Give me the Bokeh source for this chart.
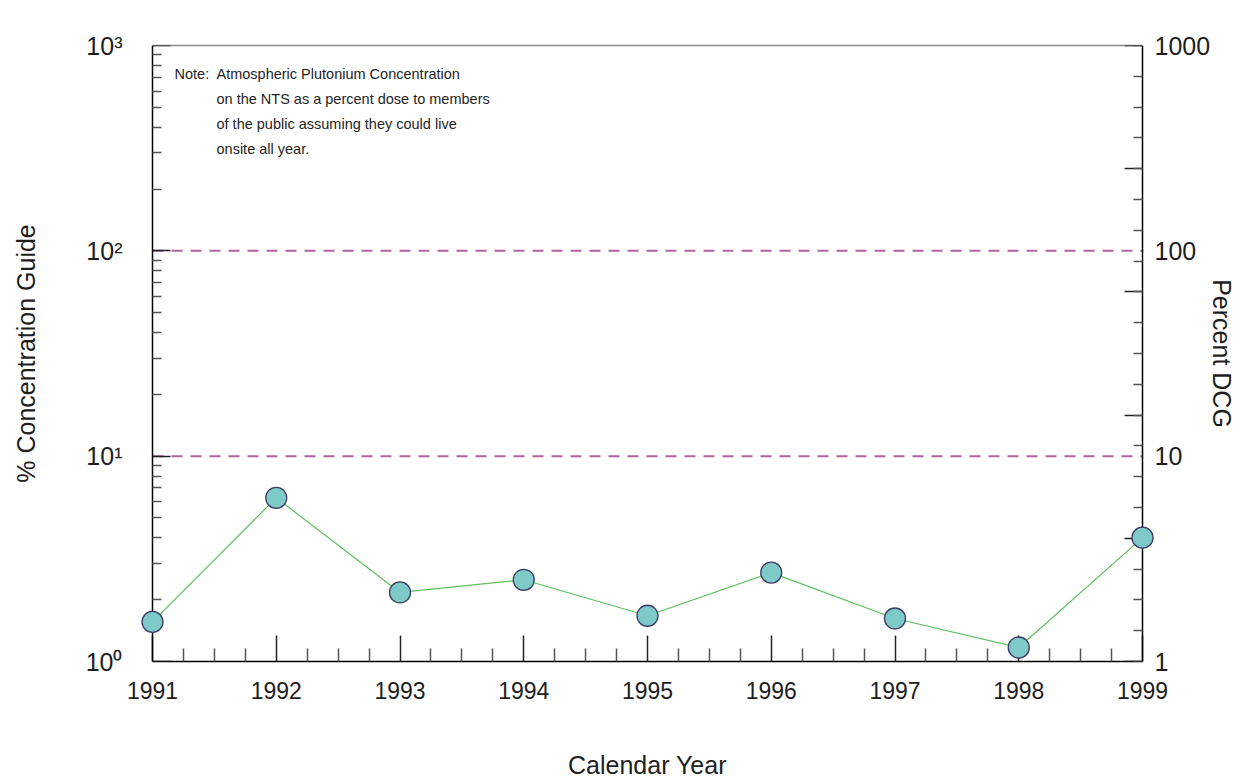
from bokeh.plotting import figure
from bokeh.models import (LogAxis, LinearAxis, FixedTicker, Range1d, Label,
                          LinearScale, LogScale, ColumnDataSource)
from bokeh.embed import file_html
from bokeh.resources import INLINE

# ---- data ----
years = [1991, 1992, 1993, 1994, 1995, 1996, 1997, 1998, 1999]
pct_guide = [1.56, 6.27, 2.17, 2.50, 1.67, 2.71, 1.62, 1.17, 4.01]
guide_levels = [10, 100]
left_ticks = [1, 10, 100, 1000]
left_tick_labels = ["10\u2070", "10\u00b9", "10\u00b2", "10\u00b3"]
right_tick_labels = ["1", "10", "100", "1000"]
note_head = "Note:"
note_lines = ["Atmospheric Plutonium Concentration",
              "on the NTS as a percent dose to members",
              "of the public assuming they could live",
              "onsite all year."]
x_title = "Calendar Year"
y_title = "% Concentration Guide"
y2_title = "Percent DCG"

FONT = "Liberation Sans"
TXT = "#1e1e1e"

# layout: visible plot box 990 px wide; frame padded so edge markers are not cut
PAD = 12
BOX_W = 990
dx = (years[-1] - years[0]) * PAD / BOX_W

p = figure(width=1244, height=781,
           x_range=Range1d(years[0] - dx, years[-1] + dx),
           y_range=Range1d(left_ticks[0], left_ticks[-1]),
           y_axis_type="log", x_axis_location=None, y_axis_location=None,
           output_backend="svg", toolbar_location=None,
           min_border_left=152 - PAD, min_border_right=1244 - 152 - BOX_W - PAD,
           min_border_top=45, min_border_bottom=119)
p.y_scale = LogScale()
p.grid.visible = False
p.outline_line_color = None
p.background_fill_color = "white"
p.border_fill_color = "white"

p.extra_y_ranges = {"lin": Range1d(0, 20)}
p.extra_y_scales = {"lin": LinearScale()}

x_bounds = (years[0], years[-1])
TICKSTYLE = dict(major_tick_out=0, minor_tick_out=0,
                 major_tick_line_color="#222", minor_tick_line_color="#555",
                 major_tick_line_width=1.5, minor_tick_line_width=1.5)
TITLESTYLE = dict(axis_label_text_font=FONT, axis_label_text_font_size="25px",
                  axis_label_text_font_style="normal", axis_label_text_color=TXT)

# top edge
ta = LinearAxis(ticker=FixedTicker(ticks=[]), bounds=x_bounds,
                axis_line_color="#8c8c8c", axis_line_width=1.5,
                major_tick_in=0, major_tick_out=0, minor_tick_in=0, minor_tick_out=0,
                major_label_text_font_size="1px", major_label_standoff=0)
p.add_layout(ta, "above")

# bottom axis
quarters = [y + k * 0.25 for y in years[:-1] for k in (1, 2, 3)]
xa = LinearAxis(ticker=FixedTicker(ticks=years, minor_ticks=quarters), bounds=x_bounds,
                major_tick_in=26, minor_tick_in=13, **TICKSTYLE,
                axis_line_color="black", axis_line_width=1.5,
                major_label_standoff=20,
                major_label_text_font=FONT, major_label_text_font_size="23px",
                major_label_text_color=TXT,
                axis_label=x_title, axis_label_standoff=49, **TITLESTYLE)
p.add_layout(xa, "below")

# left axis: line + ticks drawn at the first year
minors = [m * d for d in left_ticks[:-1] for m in range(2, 10)]
ya = LogAxis(ticker=FixedTicker(ticks=left_ticks, minor_ticks=minors),
             fixed_location=years[0],
             major_label_overrides={t: "" for t in left_ticks},
             major_label_text_font_size="1px", major_label_standoff=0,
             major_tick_in=18, minor_tick_in=9, **TICKSTYLE,
             axis_line_color="black", axis_line_width=1.5)
p.add_layout(ya, "left")
# left axis: labels
yb = LogAxis(ticker=FixedTicker(ticks=left_ticks, minor_ticks=[]),
             major_label_overrides={t: s for t, s in zip(left_ticks, left_tick_labels)},
             major_tick_in=0, major_tick_out=0, axis_line_color=None,
             major_label_standoff=18,
             major_label_text_font=FONT, major_label_text_font_size="25px",
             major_label_text_color=TXT,
             axis_label=y_title, axis_label_standoff=43, **TITLESTYLE)
p.add_layout(yb, "left")

# right axis: line + ticks (evenly spaced, as in the original) at the last year
lin_major = [0, 4, 8, 12, 16, 20]
lin_minor = list(range(0, 21))
ra = LinearAxis(y_range_name="lin", fixed_location=years[-1],
                ticker=FixedTicker(ticks=lin_major, minor_ticks=lin_minor),
                major_label_overrides={t: "" for t in lin_major},
                major_label_standoff=0, major_label_text_font_size="1px",
                major_tick_in=18, minor_tick_in=9, **TICKSTYLE,
                axis_line_color="black", axis_line_width=1.5)
p.add_layout(ra, "right")
# right axis: labels
rb = LogAxis(ticker=FixedTicker(ticks=left_ticks, minor_ticks=[]),
             major_label_overrides={t: s for t, s in zip(left_ticks, right_tick_labels)},
             major_tick_in=0, major_tick_out=0, axis_line_color=None,
             major_label_standoff=0,
             major_label_text_font=FONT, major_label_text_font_size="25px",
             major_label_text_color=TXT,
             axis_label=y2_title, axis_label_standoff=-5, **TITLESTYLE)
p.add_layout(rb, "right")

# guide lines (dashed) between the two vertical axes
p.segment(x0=[years[0]] * len(guide_levels), x1=[years[-1]] * len(guide_levels),
          y0=guide_levels, y1=guide_levels,
          line_color="#b5619e", line_dash="11 8", line_width=2)

src = ColumnDataSource(dict(x=years, y=pct_guide))
p.line("x", "y", source=src, line_color="#5cc05c", line_width=1.2)
p.scatter("x", "y", source=src, size=21, fill_color="#7ecac9",
          line_color="#3d3a63", line_width=1.3, level="overlay")

# note
NOTE_FS = "14.5px"
p.add_layout(Label(x=years[0], y=left_ticks[-1], x_offset=22, y_offset=-36,
                   text=note_head, text_font=FONT, text_font_size=NOTE_FS,
                   text_color=TXT))
for i, ln in enumerate(note_lines):
    p.add_layout(Label(x=years[0], y=left_ticks[-1], x_offset=64,
                       y_offset=-36 - 25 * i,
                       text=ln, text_font=FONT, text_font_size=NOTE_FS,
                       text_color=TXT))

open("out.html", "w").write(file_html(p, INLINE))
